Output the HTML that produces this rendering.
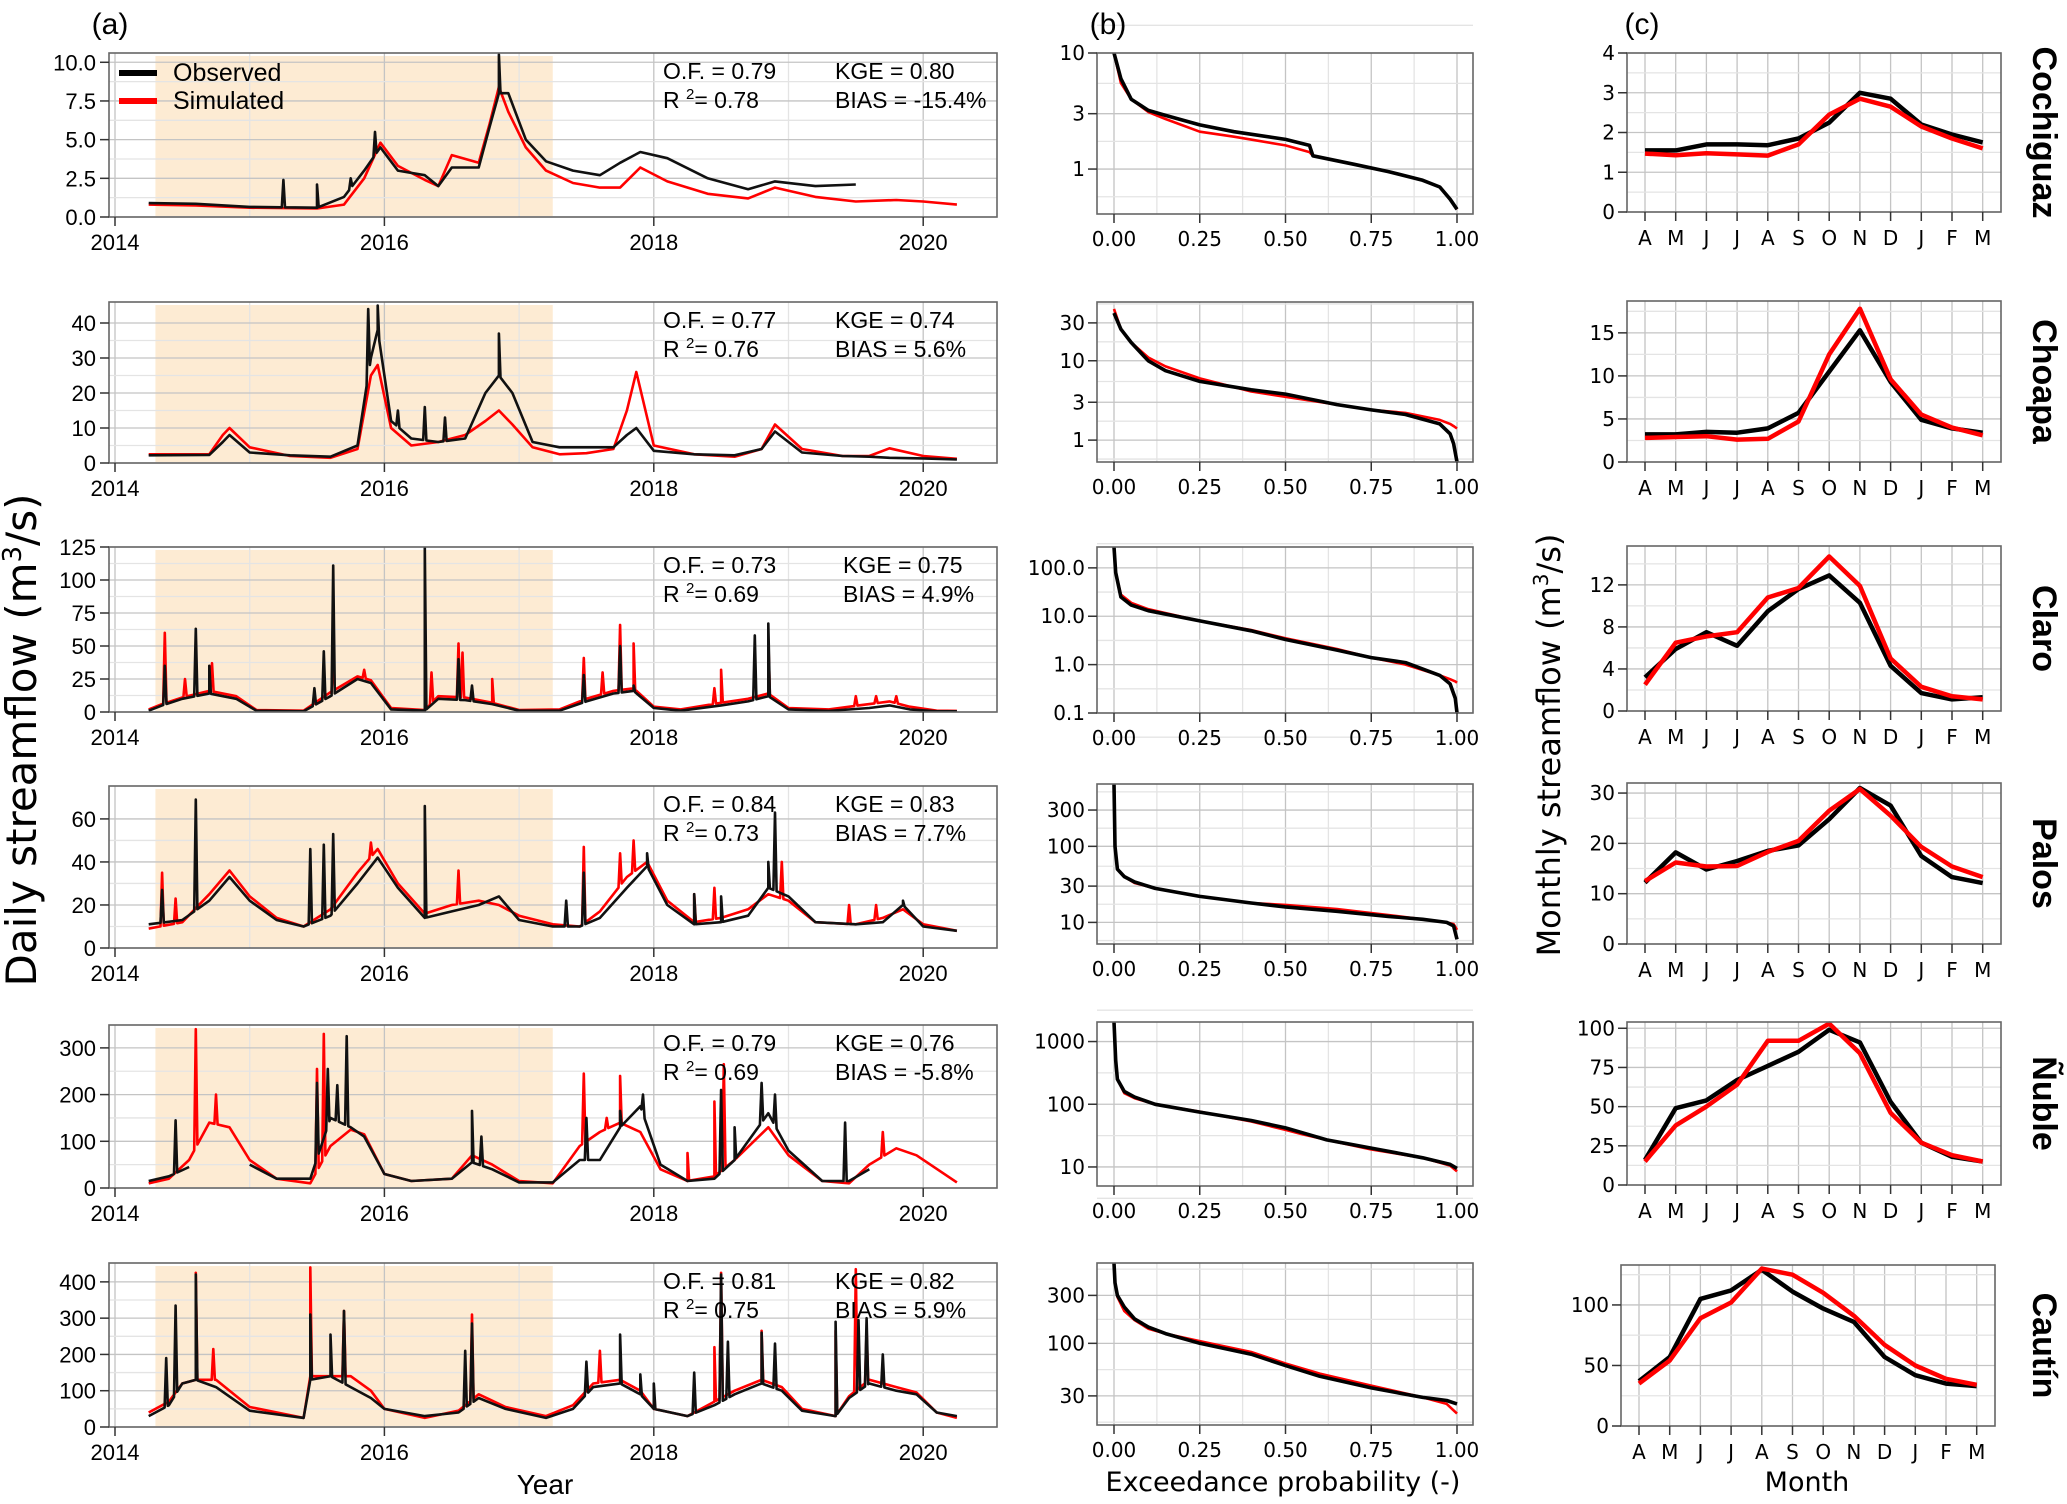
<!DOCTYPE html>
<html><head><meta charset="utf-8"><title>Streamflow comparison</title>
<style>
html,body{margin:0;padding:0;background:#fff;}
svg{display:block;}
text{font-family:"Liberation Sans","DejaVu Sans",sans-serif;fill:#000;}
.dv{font-family:"DejaVu Sans","Liberation Sans",sans-serif;}
</style></head>
<body>
<svg id="chart" xmlns="http://www.w3.org/2000/svg" width="2067" height="1504" viewBox="0 0 2067 1504">
<rect x="0" y="0" width="2067" height="1504" fill="#fff"/>
<g id="panels"></g>
<text x="110" y="34" font-size="30" text-anchor="middle">(a)</text>
<text x="1108" y="34" font-size="30" text-anchor="middle">(b)</text>
<text x="1642" y="34" font-size="30" text-anchor="middle">(c)</text>
<text class="dv" transform="translate(36,740) rotate(-90)" font-size="42" text-anchor="middle">Daily streamflow (m<tspan font-size="26" dy="-15">3</tspan><tspan dy="15">/s)</tspan></text>
<text class="dv" transform="translate(1560,745) rotate(-90)" font-size="32" text-anchor="middle">Monthly streamflow (m<tspan font-size="20" dy="-12">3</tspan><tspan dy="12">/s)</tspan></text>
<text x="545" y="1494" font-size="28" text-anchor="middle">Year</text>
<text class="dv" x="1283" y="1491" font-size="27" text-anchor="middle">Exceedance probability (-)</text>
<text class="dv" x="1807" y="1491" font-size="27" text-anchor="middle">Month</text>
<g>
<line x1="119" y1="73" x2="157" y2="73" stroke="#000" stroke-width="6"/>
<text x="173" y="81" font-size="25">Observed</text>
<line x1="119" y1="101" x2="157" y2="101" stroke="#f00" stroke-width="6"/>
<text x="173" y="109" font-size="25">Simulated</text>
</g>
</svg>
<script>
// ---------------- DATA ----------------
const basinNames = ["Cochiguaz","Choapa","Claro","Palos","Ñuble","Cautín"];
const statOF = ["0.79","0.77","0.73","0.84","0.79","0.81"];
const statR2 = ["0.78","0.76","0.69","0.73","0.69","0.75"];
const statKGE = ["0.80","0.74","0.75","0.83","0.76","0.82"];
const statBIAS = ["-15.4%","5.6%","4.9%","7.7%","-5.8%","5.9%"];

const cochT = [2014.25,2014.6,2015.0,2015.5,2015.7,2015.85,2015.97,2016.1,2016.3,2016.4,2016.5,2016.7,2016.78,2016.85,2016.92,2017.05,2017.2,2017.4,2017.6,2017.75,2017.9,2018.1,2018.4,2018.7,2018.9,2019.2,2019.5,2019.8,2020.0,2020.25];
const cochObs = [0.9,0.85,0.65,0.6,1.3,3.0,4.5,3.0,2.7,2.0,3.2,3.2,5.8,8.0,8.0,5.0,3.6,3.0,2.7,3.5,4.2,3.8,2.5,1.8,2.3,2.0,2.1,null,null,null];
const cochSim = [0.8,0.75,0.6,0.55,0.8,2.5,4.8,3.3,2.4,2.0,4.0,3.5,6.0,8.4,6.8,4.5,3.0,2.2,1.9,1.9,3.2,2.3,1.5,1.2,1.9,1.3,1.0,1.1,1.0,0.8];
const cochObsSpikes = [[2015.25,2.4],[2015.5,2.1],[2015.75,2.5],[2015.93,5.5],[2016.85,10.5]];
const cochSimSpikes = [];

const choaT = [2014.25,2014.7,2014.8,2014.85,2015.0,2015.3,2015.6,2015.8,2015.9,2015.95,2016.05,2016.2,2016.4,2016.6,2016.75,2016.85,2016.95,2017.1,2017.3,2017.5,2017.7,2017.8,2017.87,2018.0,2018.3,2018.6,2018.8,2018.9,2019.1,2019.4,2019.6,2019.75,2020.0,2020.25];
const choaObs = [2.2,2.3,6,8,3,2.2,1.8,5,30,38,12,7,6,7,20,25,20,6,4.5,4.5,4.5,8,10,3.5,2.5,2.2,4,9,3,2,1.8,1.5,1.3,1.0];
const choaSim = [2.5,2.5,8,10,4.5,2,1.5,4,25,28,10,5,6,8,12,15,11,4.5,2.5,2.8,4,15,26,5,2.5,1.8,4,11,4,2,2,4.2,2,1.2];
const choaObsSpikes = [[2015.88,44],[2015.95,45],[2016.85,37],[2016.3,16],[2016.1,15],[2016.45,13]];
const choaSimSpikes = [];

const claroT = [2014.25,2014.35,2014.5,2014.7,2014.9,2015.05,2015.4,2015.6,2015.8,2015.9,2016.05,2016.3,2016.4,2016.6,2016.8,2017.0,2017.3,2017.5,2017.7,2017.85,2018.0,2018.2,2018.5,2018.7,2018.85,2019.0,2019.3,2019.6,2019.75,2019.9,2020.1,2020.25];
const claroObs = [1,5,10,14,10,1,0.5,12,25,22,2,1,10,9,6,1,1,8,14,16,3,1,5,8,12,2,0.8,3,5,2,0.5,0.5];
const claroSim = [2,6,11,16,12,1.5,1,15,27,24,3,1.5,12,11,7,1.5,2,10,16,18,4,2,7,10,14,3,2,6,8,4,1,0.8];
const claroObsSpikes = [[2014.37,35],[2014.6,63],[2014.7,35],[2015.48,18],[2015.55,46],[2015.62,111],[2016.3,125],[2016.55,40],[2016.65,20],[2017.48,28],[2017.75,50],[2017.85,20],[2018.75,58],[2018.85,67]];
const claroSimSpikes = [[2014.37,60],[2014.52,25],[2014.72,37],[2015.62,50],[2015.85,32],[2016.35,30],[2016.55,52],[2016.58,45],[2016.8,25],[2017.48,41],[2017.62,30],[2017.75,66],[2017.85,52],[2018.45,18],[2018.5,32],[2018.85,55],[2019.5,12],[2019.65,12],[2019.8,12]];

const palosT = [2014.25,2014.5,2014.7,2014.85,2015.0,2015.2,2015.4,2015.6,2015.8,2015.95,2016.1,2016.3,2016.5,2016.7,2016.85,2017.0,2017.25,2017.45,2017.6,2017.8,2017.95,2018.1,2018.3,2018.5,2018.7,2018.85,2019.0,2019.2,2019.5,2019.7,2019.85,2020.0,2020.25];
const palosObs = [11,13,22,33,22,13,10,15,30,42,28,14,17,20,24,13,10,10,14,28,38,20,11,12,15,28,24,12,11,12,20,10,8];
const palosSim = [9,12,25,36,24,14,10,18,35,46,30,16,20,22,20,15,11,10,17,33,40,22,12,14,18,25,22,12,11,14,18,11,8];
const palosObsSpikes = [[2014.35,27],[2014.6,69],[2015.45,46],[2015.55,48],[2015.62,53],[2016.3,66],[2017.35,22],[2017.48,35],[2017.95,44],[2018.3,25],[2018.5,24],[2018.85,40],[2018.9,63],[2019.85,22]];
const palosSimSpikes = [[2014.35,35],[2014.45,23],[2015.9,49],[2016.55,36],[2017.48,47],[2017.75,44],[2017.85,50],[2018.3,25],[2018.45,28],[2018.95,40],[2019.45,20],[2019.65,20]];

const nubleT = [2014.25,2014.4,2014.55,2014.7,2014.85,2015.0,2015.2,2015.45,2015.6,2015.75,2015.85,2016.0,2016.2,2016.5,2016.65,2016.8,2017.0,2017.25,2017.45,2017.6,2017.75,2017.9,2018.05,2018.25,2018.45,2018.6,2018.85,2019.0,2019.25,2019.45,2019.6,2019.8,2019.95,2020.25];
const nubleObs = [15,25,45,null,null,50,20,20,150,130,110,30,15,20,55,40,12,12,60,60,130,175,50,15,20,60,160,80,15,15,40,null,null,null];
const nubleSim = [10,20,60,140,130,60,20,10,90,125,115,30,15,20,70,50,15,10,90,120,140,120,40,15,25,60,130,70,15,10,50,85,70,12];
const nubleObsSpikes = [[2014.45,145],[2014.58,305],[2015.5,225],[2015.58,255],[2015.65,220],[2015.72,325],[2016.65,165],[2016.72,110],[2017.5,150],[2017.75,165],[2017.92,200],[2018.5,210],[2018.6,130],[2018.8,225],[2018.9,200],[2019.42,140]];
const nubleSimSpikes = [[2014.6,340],[2014.75,200],[2015.5,255],[2015.55,330],[2017.48,245],[2017.65,150],[2017.75,240],[2018.25,75],[2018.45,185],[2018.52,265],[2019.7,120]];

const cautT = [2014.25,2014.4,2014.5,2014.6,2014.75,2015.0,2015.4,2015.45,2015.6,2015.75,2015.9,2016.0,2016.3,2016.55,2016.7,2016.9,2017.2,2017.4,2017.55,2017.75,2017.9,2018.0,2018.25,2018.45,2018.6,2018.8,2018.95,2019.1,2019.35,2019.45,2019.6,2019.8,2019.95,2020.1,2020.25];
const cautObs = [30,60,120,130,110,45,25,130,140,110,80,50,30,40,80,50,25,50,110,120,90,50,30,60,90,120,100,45,30,80,120,100,90,40,30];
const cautSim = [40,70,120,130,130,55,25,140,140,140,100,50,25,45,90,55,30,60,120,130,100,50,30,70,100,130,110,50,30,85,130,110,95,40,25];
const cautObsSpikes = [[2014.38,190],[2014.45,335],[2014.6,420],[2015.45,310],[2015.6,255],[2015.7,320],[2016.6,210],[2016.65,285],[2017.5,180],[2017.75,255],[2017.9,145],[2018.0,120],[2018.3,150],[2018.5,420],[2018.55,235],[2018.8,260],[2018.9,230],[2019.35,290],[2019.52,295],[2019.58,300],[2019.7,200]];
const cautSimSpikes = [[2014.6,425],[2014.73,215],[2015.45,440],[2015.7,320],[2016.65,310],[2017.6,210],[2018.45,220],[2018.5,425],[2018.8,265],[2019.35,265],[2019.5,435],[2019.58,265]];

const yearTicks = [2014,2016,2018,2020];
const calibStart = 2014.3;
const calibEnd = 2017.25;
const aYMax = [10.6,46,125,75.3,349,452];
const aTicks = [[0,2.5,5,7.5,10],[0,10,20,30,40],[0,25,50,75,100,125],[0,20,40,60],[0,100,200,300],[0,100,200,300,400]];
const aTickLabels = [["0.0","2.5","5.0","7.5","10.0"],["0","10","20","30","40"],["0","25","50","75","100","125"],["0","20","40","60"],["0","100","200","300"],["0","100","200","300","400"]];

const fdcP = [
 [0,0.02,0.05,0.1,0.15,0.25,0.35,0.5,0.57,0.58,0.7,0.8,0.9,0.95,0.98,1.0],
 [0,0.02,0.05,0.1,0.15,0.25,0.4,0.5,0.65,0.75,0.85,0.95,0.98,0.99,1.0],
 [0,0.005,0.02,0.05,0.1,0.25,0.4,0.5,0.65,0.75,0.85,0.95,0.98,0.995,1.0],
 [0,0.003,0.01,0.03,0.06,0.12,0.25,0.4,0.5,0.65,0.8,0.9,0.97,0.99,1.0],
 [0,0.005,0.01,0.03,0.06,0.12,0.25,0.4,0.5,0.55,0.62,0.75,0.9,0.98,1.0],
 [0,0.003,0.01,0.03,0.06,0.1,0.15,0.25,0.4,0.5,0.6,0.75,0.9,0.97,1.0]];
const fdcObs = [
 [10,6,4,3.2,2.9,2.4,2.1,1.8,1.6,1.3,1.1,0.95,0.8,0.7,0.55,0.45],
 [40,25,17,10,7.5,5.5,4.3,3.8,2.8,2.4,2.1,1.6,1.2,0.9,0.53],
 [270,80,25,17,13,8,5,3.3,2,1.4,1.1,0.6,0.4,0.2,0.1],
 [660,100,50,40,34,28,22,18,16,14,12,11,10,9,6],
 [2050,500,250,160,130,100,75,55,42,35,27,20,14,11,9.5],
 [630,400,300,230,175,145,125,100,78,60,47,36,29,27,25]];
const fdcSim = [
 [10,5.5,4,3.1,2.7,2.1,1.9,1.6,1.4,1.3,1.1,0.95,0.8,0.7,0.55,0.45],
 [45,25,17,11,8.5,6,4.1,3.5,2.8,2.4,2.2,1.8,1.6,1.5,1.4],
 [270,80,28,19,14,8,5.2,3.5,2.1,1.4,1.0,0.6,0.5,0.45,0.42],
 [660,100,50,40,33,28,22,18,17,15,12.5,11,10,9.5,8],
 [2050,500,250,150,125,100,76,53,39,33,27,19,14,10.5,8.5],
 [630,400,290,210,170,140,125,105,82,63,50,38,29,25,20]];
const bRange = [[0.41,10],[0.53,55],[0.1,270],[5.2,660],[4.97,2050],[15.4,630]];
const bTicks = [[1,3,10],[1,3,10,30],[0.1,1,10,100],[10,30,100,300],[10,100,1000],[30,100,300]];
const bTickLabels = [["1","3","10"],["1","3","10","30"],["0.1","1.0","10.0","100.0"],["10","30","100","300"],["10","100","1000"],["30","100","300"]];
const probTicks = [0,0.25,0.5,0.75,1];
const probTickLabels = ["0.00","0.25","0.50","0.75","1.00"];

const monthLabels = ["A","M","J","J","A","S","O","N","D","J","F","M"];
const monObs = [
 [1.55,1.55,1.7,1.7,1.68,1.85,2.25,3.0,2.85,2.2,1.95,1.75],
 [3.2,3.2,3.5,3.4,3.9,5.7,10.5,15.3,9.3,4.9,3.9,3.4],
 [3.2,5.9,7.5,6.2,9.5,11.6,12.9,10.3,4.3,1.7,1.1,1.3],
 [12.2,18.2,14.8,16.5,18.5,19.6,24.8,31,27.5,17.5,13.3,12.1],
 [16,49,54,67,76,85,99,91,53,27,18,15],
 [37,57,105,112,129,111,97,86,57,42,35,33]];
const monSim = [
 [1.47,1.43,1.48,1.45,1.42,1.7,2.45,2.85,2.65,2.15,1.85,1.6],
 [2.8,2.9,3.0,2.6,2.7,4.7,12.5,17.8,9.6,5.5,4.0,3.1],
 [2.5,6.5,7.1,7.5,10.8,11.7,14.7,11.9,5.0,2.3,1.4,1.1],
 [12.5,16.2,15.4,15.5,18.3,20.5,26.5,30.8,25.5,19.3,15.4,13.3],
 [15,38,50,64,92,92,103,84,46,27,19,15],
 [35,54,89,102,130,125,110,91,67,50,39,34]];
const cYMax = [4,18.7,15.7,32,104,133];
const cTicks = [[0,1,2,3,4],[0,5,10,15],[0,4,8,12],[0,10,20,30],[0,25,50,75,100],[0,50,100]];

// ---------------- LAYOUT ----------------
const aSeries = [
 [cochT,cochObs,cochSim,cochObsSpikes,cochSimSpikes],
 [choaT,choaObs,choaSim,choaObsSpikes,choaSimSpikes],
 [claroT,claroObs,claroSim,claroObsSpikes,claroSimSpikes],
 [palosT,palosObs,palosSim,palosObsSpikes,palosSimSpikes],
 [nubleT,nubleObs,nubleSim,nubleObsSpikes,nubleSimSpikes],
 [cautT,cautObs,cautSim,cautObsSpikes,cautSimSpikes]];
const aTop = [53,302,547,786,1025,1263], aBot = [217,463,712,948,1188,1427];
const bTop = [53,302,547,784,1022,1263], bBot = [214,462,713,944,1186,1425];
const cTop = [53,301,546,783,1022,1265], cBot = [212,462,711,944,1185,1426];
const cShift = [0,0,0,0,0,-6];
const NS = "http://www.w3.org/2000/svg";
const root = document.getElementById('panels');
function mk(tag, parent, attrs){ const e=document.createElementNS(NS,tag); for(const k in attrs) e.setAttribute(k,attrs[k]); parent.appendChild(e); return e; }
function hline(g,x0,x1,y,col,w){ return mk('line',g,{x1:x0,x2:x1,y1:y,y2:y,stroke:col,'stroke-width':w}); }
function vline(g,x,y0,y1,col,w){ return mk('line',g,{x1:x,x2:x,y1:y0,y2:y1,stroke:col,'stroke-width':w}); }
function lin(T,V,t){
  for(let i=0;i<T.length-1;i++){ if(t>=T[i]&&t<=T[i+1]){ if(V[i]==null||V[i+1]==null) return null; return V[i]+(V[i+1]-V[i])*(t-T[i])/(T[i+1]-T[i]); } }
  return null;
}
function pathFrom(pts, fx, fy){
  let d='', pen=false;
  for(const p of pts){ if(p[1]==null){pen=false;continue;} d+=(pen?'L':'M')+fx(p[0]).toFixed(1)+','+fy(p[1]).toFixed(1); pen=true; }
  return d;
}
const MAJ="#c4c4c4", MIN="#e4e4e4", FR="#666";
let clipId=0;
function clip(x0,y0,x1,y1){ const id='c'+(clipId++); const cp=mk('clipPath',root,{id:id}); mk('rect',cp,{x:x0,y:y0,width:x1-x0,height:y1-y0}); return 'url(#'+id+')'; }

// ---------- Panel (a) ----------
for(let r=0;r<6;r++){
  const top=aTop[r], bot=aBot[r], X0=109, X1=997;
  const fx = t => 115+(t-2014)*134.7;
  const fy = v => bot - v/aYMax[r]*(bot-top);
  const g = mk('g',root,{});
  
  
  const sh = mk('rect',g,{x:fx(calibStart),y:top+3,width:fx(calibEnd)-fx(calibStart),height:bot-top-4,fill:'#fdebd3'});
  
  
  for(let yr=2014;yr<=2020;yr++) vline(g,fx(yr),top,bot,yr%2?MIN:MAJ,1.3);
  const tk=aTicks[r];
  for(let i=0;i<tk.length;i++){ hline(g,X0,X1,fy(tk[i]),MAJ,1.3); if(i<tk.length-1) hline(g,X0,X1,fy((tk[i]+tk[i+1])/2),MIN,1.3); }
  const cl = clip(X0,top,X1,bot);
  const [T,O,S,OS,SS] = aSeries[r];
  function build(V,spk){
    const pts=T.map((t,i)=>[t,V[i]]);
    for(const s of spk){ const a=lin(T,V,s[0]-0.012), b=lin(T,V,s[0]+0.012); if(a==null||b==null) continue; pts.push([s[0]-0.012,a],[s[0],s[1]],[s[0]+0.012,b]); }
    pts.sort((p,q)=>p[0]-q[0]); return pts;
  }
  const ps = mk('path',g,{d:pathFrom(build(S,SS),fx,fy),fill:'none',stroke:'#f00','stroke-width':2.6,'stroke-linejoin':'round','clip-path':cl});
  
  
  const po = mk('path',g,{d:pathFrom(build(O,OS),fx,fy),fill:'none',stroke:'#111','stroke-width':2.6,'stroke-linejoin':'round','clip-path':cl});
  
  
  const fr = mk('rect',g,{x:X0,y:top,width:X1-X0,height:bot-top,fill:'none',stroke:FR,'stroke-width':1.6});
  
  
  for(let i=0;i<tk.length;i++){
    hline(g,X0-9,X0,fy(tk[i]),'#333',1.5);
    const t=mk('text',g,{x:X0-13,y:fy(tk[i])+8,'font-size':22,'text-anchor':'end'}); t.textContent=aTickLabels[r][i];
    
    
  }
  for(const yr of yearTicks){
    vline(g,fx(yr),bot,bot+9,'#333',1.5);
    const t=mk('text',g,{x:fx(yr),y:bot+33,'font-size':22,'text-anchor':'middle'}); t.textContent=String(yr);
    
    
  }
  const kx = (r===2)?843:835;
  const s1=mk('text',g,{x:663,y:top+26,'font-size':23}); s1.textContent='O.F. = '+statOF[r];
  
  
  const s2=mk('text',g,{x:663,y:top+55,'font-size':23});
  
  
  s2.appendChild(document.createTextNode('R '));
  const sup=mk('tspan',s2,{dy:-9,'font-size':15}); sup.textContent='2';
  const rest=mk('tspan',s2,{dy:9}); rest.textContent='= '+statR2[r];
  const s3=mk('text',g,{x:kx,y:top+26,'font-size':23}); s3.textContent='KGE = '+statKGE[r];
  
  
  const s4=mk('text',g,{x:kx,y:top+55,'font-size':23}); s4.textContent='BIAS = '+statBIAS[r];
  
  
}

// ---------- Panel (b) ----------
for(let r=0;r<6;r++){
  const top=bTop[r], bot=bBot[r], X0=1097, X1=1473;
  const fx = p => 1114+p*343;
  const lo=Math.log10(bRange[r][0]), hi=Math.log10(bRange[r][1]);
  const fy = v => bot - (Math.log10(v)-lo)/(hi-lo)*(bot-top);
  const g = mk('g',root,{});
  
  
  for(let k=0;k<=8;k++) vline(g,fx(k/8),top,bot,k%2?MIN:MAJ,1.3);
  const tk=bTicks[r];
  for(let i=0;i<tk.length;i++){ hline(g,X0,X1,fy(tk[i]),MAJ,1.3); }
  for(let i=0;i<tk.length-1;i++){ hline(g,X0,X1,fy(Math.sqrt(tk[i]*tk[i+1])),MIN,1.3); }
  hline(g,X0,X1,fy(tk[0]/Math.sqrt(tk[1]/tk[0])),MIN,1.3);
  hline(g,X0,X1,fy(tk[tk.length-1]*Math.sqrt(tk[1]/tk[0])),MIN,1.3);
  const cl = clip(X0,top,X1,bot);
  const P=fdcP[r];
  const ps=mk('path',g,{d:pathFrom(P.map((p,i)=>[p,fdcSim[r][i]]),fx,fy),fill:'none',stroke:'#f00','stroke-width':2.6,'stroke-linejoin':'round','clip-path':cl});
  
  
  const po=mk('path',g,{d:pathFrom(P.map((p,i)=>[p,fdcObs[r][i]]),fx,fy),fill:'none',stroke:'#000','stroke-width':3.6,'stroke-linejoin':'round','clip-path':cl});
  
  
  const fr=mk('rect',g,{x:X0,y:top,width:X1-X0,height:bot-top,fill:'none',stroke:FR,'stroke-width':1.6});
  
  
  for(let i=0;i<tk.length;i++){
    hline(g,X0-9,X0,fy(tk[i]),'#333',1.5);
    const t=mk('text',g,{x:X0-12,y:fy(tk[i])+7,'font-size':20,'text-anchor':'end','class':'dv'}); t.textContent=bTickLabels[r][i];
    
    
  }
  for(let i=0;i<probTicks.length;i++){
    vline(g,fx(probTicks[i]),bot,bot+9,'#333',1.5);
    const t=mk('text',g,{x:fx(probTicks[i]),y:bot+32,'font-size':20,'text-anchor':'middle','class':'dv'}); t.textContent=probTickLabels[i];
    
    
  }
}

// ---------- Panel (c) ----------
for(let r=0;r<6;r++){
  const top=cTop[r], bot=cBot[r], X0=1627+cShift[r], X1=2001+cShift[r];
  const fx = i => 1645+cShift[r]+i*30.7;
  const fy = v => bot - v/cYMax[r]*(bot-top);
  const g = mk('g',root,{});
  
  
  for(let i=0;i<12;i++) vline(g,fx(i),top,bot,MAJ,1.3);
  const tk=cTicks[r];
  for(let i=0;i<tk.length;i++){ hline(g,X0,X1,fy(tk[i]),MAJ,1.3); const m=tk[i]+(tk[1]-tk[0])/2; if(m<cYMax[r]) hline(g,X0,X1,fy(m),MIN,1.3); }
  const ps=mk('path',g,{d:pathFrom(monObs[r].map((v,i)=>[i,v]),fx,fy),fill:'none',stroke:'#000','stroke-width':4.5,'stroke-linejoin':'round'});
  
  
  const po=mk('path',g,{d:pathFrom(monSim[r].map((v,i)=>[i,v]),fx,fy),fill:'none',stroke:'#f00','stroke-width':4.5,'stroke-linejoin':'round'});
  
  
  const fr=mk('rect',g,{x:X0,y:top,width:X1-X0,height:bot-top,fill:'none',stroke:FR,'stroke-width':1.6});
  
  
  for(let i=0;i<tk.length;i++){
    hline(g,X0-9,X0,fy(tk[i]),'#333',1.5);
    const t=mk('text',g,{x:X0-12,y:fy(tk[i])+7,'font-size':20,'text-anchor':'end','class':'dv'}); t.textContent=String(tk[i]);
    
    
  }
  for(let i=0;i<12;i++){
    vline(g,fx(i),bot,bot+9,'#333',1.5);
    const t=mk('text',g,{x:fx(i),y:bot+33,'font-size':20,'text-anchor':'middle','class':'dv'}); t.textContent=monthLabels[i];
    
    
  }
  const nm=mk('text',root,{x:0,y:0,'font-size':34,'font-weight':'bold','text-anchor':'middle',transform:'translate(2033,'+((top+bot)/2)+') rotate(90)'});
  nm.textContent=basinNames[r];
  
  
}
</script>
</body></html>
